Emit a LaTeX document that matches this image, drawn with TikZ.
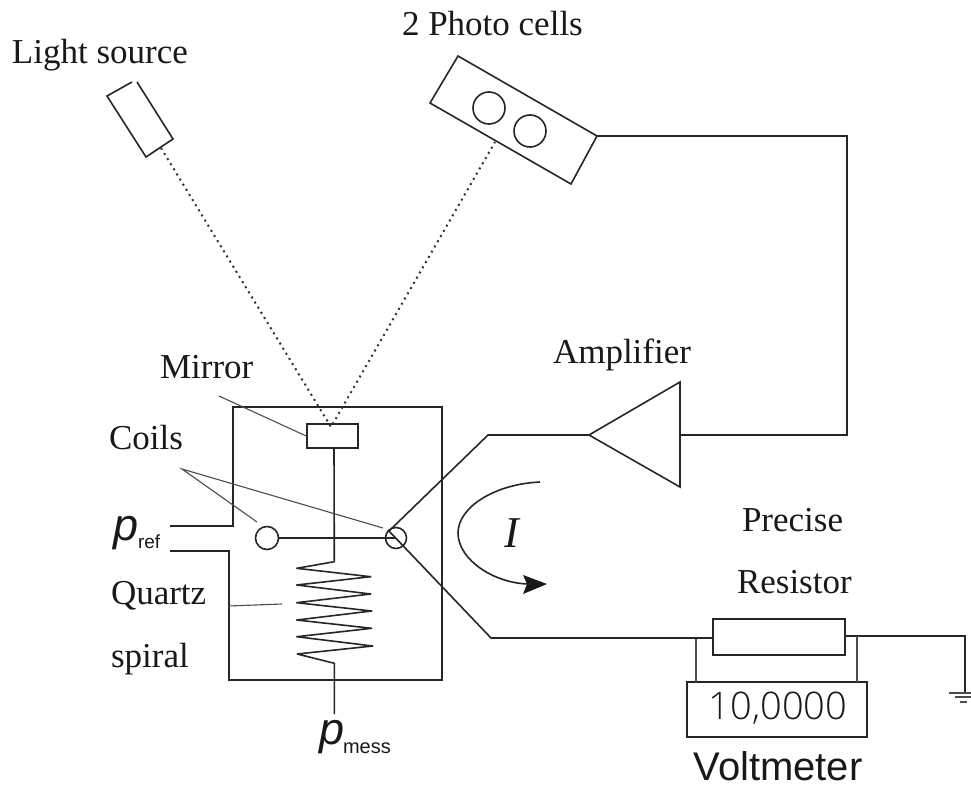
\documentclass[tikz,border=0pt]{standalone}
\usepackage{fontspec}
\setmainfont{Liberation Serif}
\setsansfont{Liberation Sans}
\newfontfamily\lightsans[UprightFont={* Light}]{Open Sans}
\usetikzlibrary{arrows.meta}
\tikzset{
 wire/.style={line width=1.6pt,draw=black!85},
 box/.style={line width=1.6pt,draw=black!85},
 thinl/.style={line width=1.1pt,draw=black!70},
 dots/.style={line width=2pt,draw=black!80,dash pattern=on 2pt off 4pt},
 lab/.style={anchor=base west,inner sep=0pt,outer sep=0pt,font=\fontsize{35}{35}\selectfont,text=black!90},
 sans/.style={anchor=base,inner sep=0pt,outer sep=0pt,text=black!90},
 coil/.style={circle,draw=black!85,line width=1.6pt,minimum size=#1,inner sep=0pt,fill=none},
}
\begin{document}
\begin{tikzpicture}[x=1pt,y=-1pt]
\useasboundingbox (0,0) rectangle (971,789);
% labels
\node[lab] (tlight) at (12,64) {Light source};
\node[lab] (tphoto) at (402,36) {2 Photo cells};
\node[lab] (tmirror) at (160,378) {Mirror};
\node[lab] (tcoils) at (109,449) {Coils};
\node[lab] (tquartz) at (111,604) {Quartz};
\node[lab] (tspiral) at (111,667) {spiral};
\node[lab] (tamp) at (553,363) {Amplifier};
\node[lab] (tprecise) at (742,531) {Precise};
\node[lab] (tres) at (737,593) {Resistor};
\node[lab,font=\fontsize{44}{44}\selectfont\itshape] (tI) at (504,547) {I};
% p labels
\node[sans,anchor=base west,font=\sffamily\itshape\fontsize{45}{45}\selectfont] (pref) at (113,540) {p};
\node[sans,anchor=base west,font=\sffamily\fontsize{19}{19}\selectfont] (prefs) at (138,548) {ref};
\node[sans,anchor=base west,font=\sffamily\itshape\fontsize{45}{45}\selectfont] (pmess) at (319,744) {p};
\node[sans,anchor=base west,font=\sffamily\fontsize{20}{20}\selectfont] (pmesss) at (343,753) {mess};
% housing
\coordinate (h1) at (170,526); \coordinate (h2) at (233,526); \coordinate (h3) at (233,407);
\coordinate (h4) at (442,407); \coordinate (h5) at (442,680); \coordinate (h6) at (229,680);
\coordinate (h7) at (229,551); \coordinate (h8) at (170,551);
\draw[wire,line width=1.9pt,line join=miter] (h1) -- (h2) -- (h3) -- (h4) -- (h5) -- (h6) -- (h7) -- (h8);
% mirror
\node[box,draw,minimum width=51pt,minimum height=24pt,inner sep=0pt,fill=white] (mirror) at (332.5,436) {};
% stem and spiral
\coordinate (st) at (334,448);
\coordinate (pm) at (334.3,714);
\draw[wire,line join=round] (st) -- (334.3,561.7) -- (296.7,568.3) -- (370.7,576.7) -- (296.7,585) -- (370.7,594) -- (296.7,602.7) -- (371.7,611) -- (296.7,620) -- (371.7,628.3) -- (296.7,636.7) -- (372.7,646) -- (297.3,654) -- (334.3,663.3) -- (pm);
% coils
\node[coil=23pt] (cl) at (267,538) {};
\node[coil=21pt] (cr) at (396,538) {};
\draw[wire] (cl) -- (cr.center);
% leaders
\coordinate (lm) at (219,396); \coordinate (lc) at (182,469); \coordinate (lq1) at (228,606); \coordinate (lq2) at (282,604);
\draw[thinl] (lm) -- (mirror.west);
\draw[thinl] (257,522) -- (lc) -- (383,528);
\draw[thinl] (lq1) -- (lq2);
% light source and photocell
\coordinate (ls0) at (132,82); \coordinate (ls1) at (137,82); \coordinate (ls2) at (107,96); \coordinate (ls3) at (146,157); \coordinate (ls4) at (173,139);
\draw[box,line join=miter] (ls0) -- (ls2) -- (ls3) -- (ls4) -- (ls1);
\coordinate (pc1) at (458,56); \coordinate (pc2) at (430,103); \coordinate (pc3) at (571,184); \coordinate (pc4) at (597,136);
\draw[box] (pc1) -- (pc2) -- (pc3) -- (pc4) -- cycle;
\node[coil=32pt] (c1) at (489,108) {};
\node[coil=32pt] (c2) at (530,131) {};
% light rays
\coordinate (lsout) at (161,148); \coordinate (pcin) at (495,142); \coordinate (mp) at (331,427);
\draw[dots] (lsout) -- (mp) -- (pcin);
% amplifier
\coordinate (a1) at (589,435); \coordinate (a2) at (680,382); \coordinate (a3) at (680,487);
\draw[box] (a1) -- (a2) -- (a3) -- cycle;
\coordinate (j1) at (488,435); \coordinate (j2) at (491,638);
\draw[wire] (389,531) -- (j1) -- (a1);
\draw[wire] (388,530) -- (j2) -- (713,638);
\coordinate (k1) at (847,435); \coordinate (k2) at (847,136);
\draw[wire,line join=miter] (680,435) -- (k1) -- (k2) -- (pc4);
% current arrow
\coordinate (ia) at (540,482); \coordinate (im) at (458,533); \coordinate (ib) at (530,584);
\draw[line width=1.6pt,draw=black!85] (ia) .. controls (495,484) and (458,507) .. (im) .. controls (458,560) and (495,584) .. (ib);
\fill[black!90] (547,584) -- (523,575) -- (527,584) -- (523,594) -- cycle;
% resistor
\node[box,draw,minimum width=132pt,minimum height=36pt,inner sep=0pt] (res) at (779,637) {};
\node[box,draw,minimum width=180pt,minimum height=55pt,inner sep=0pt] (vm) at (777,709.5) {};
\node[sans,anchor=center,font=\lightsans\fontsize{38}{38}\selectfont] (vmt) at (778,708) {10,0000};
\node[sans,font=\sffamily\fontsize{40}{40}\selectfont] (vml) at (778,780) {Voltmeter};
\coordinate (g1) at (965,636); \coordinate (g2) at (965,692);
\draw[wire,line join=miter] (845,636) -- (g1) -- (g2);
\draw[thinl] (696,639) -- (696,682);
\draw[thinl] (857,636) -- (857,682);
\draw[thinl] (949,693) -- (971,693);
\draw[thinl] (955,697) -- (971,697);
\draw[thinl] (960,702) -- (967,702);
\end{tikzpicture}
\end{document}
